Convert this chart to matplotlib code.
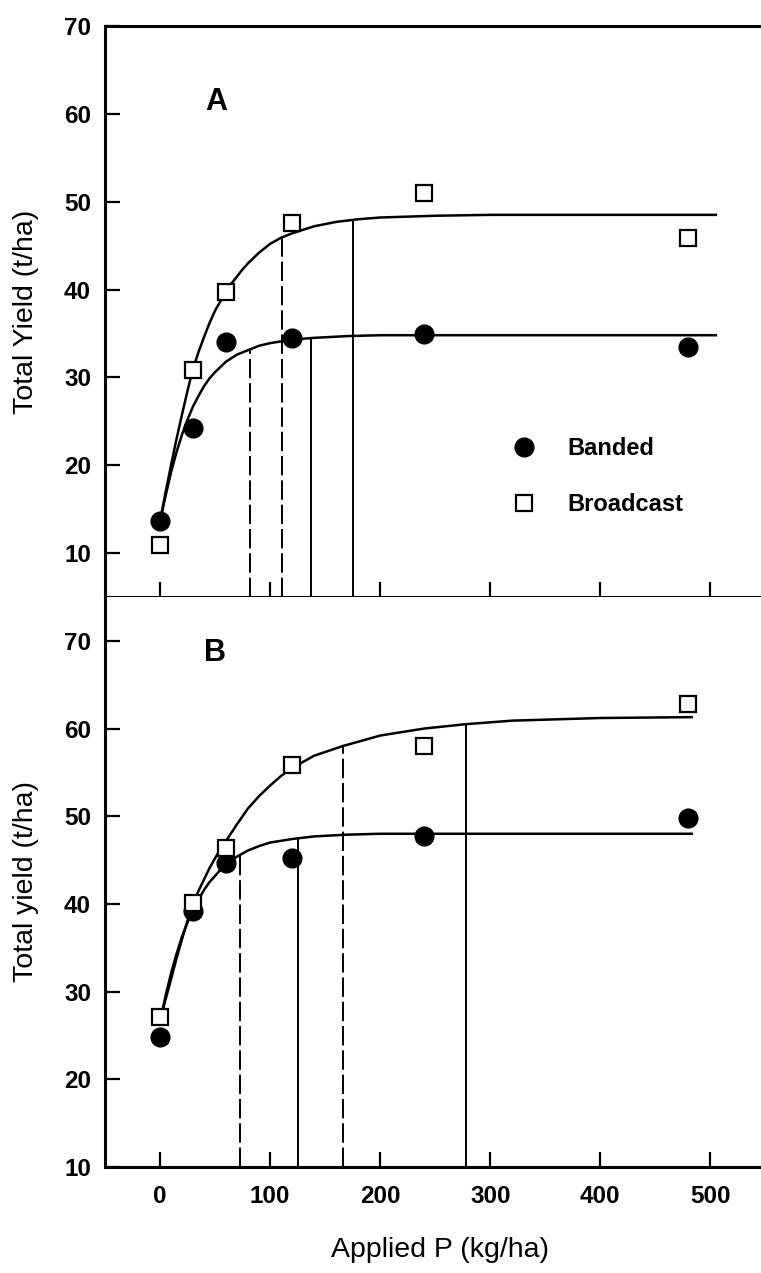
import numpy as np
import matplotlib.pyplot as plt

plt.rcParams['font.family'] = ['Liberation Sans', 'DejaVu Sans']

# measured yields
p_rate = [0, 30, 60, 120, 240, 480]
a_banded = [13.6, 24.2, 34.0, 34.5, 34.9, 33.5]
a_broadcast = [10.9, 30.8, 39.7, 47.6, 51.0, 45.9]
b_banded = [24.8, 39.2, 44.7, 45.2, 47.8, 49.8]
b_broadcast = [27.1, 40.1, 46.4, 55.8, 58.0, 62.8]

# fitted response curves
a_fit_p_banded = [0, 5, 10, 15, 20, 25, 30, 35, 40, 45, 50, 55, 60, 70, 80, 90, 100, 120, 140, 170, 200, 300, 505]
a_fit_banded = [13.6, 16.5, 19.2, 21.5, 23.5, 25.2, 26.7, 27.9, 29.0, 29.9, 30.6, 31.2, 31.8, 32.6, 33.1, 33.6,
                33.9, 34.3, 34.5, 34.7, 34.8, 34.8, 34.8]
a_fit_p_broad = [0, 5, 10, 15, 20, 25, 30, 35, 40, 45, 50, 55, 60, 65, 70, 75, 80, 90, 100, 110, 120, 140, 160,
                 180, 200, 250, 300, 400, 505]
a_fit_broad = [13.6, 16.9, 20.0, 23.0, 25.8, 28.5, 31.0, 32.9, 34.6, 36.2, 37.6, 38.7, 39.7, 40.7, 41.5, 42.3,
               43.0, 44.2, 45.2, 45.9, 46.4, 47.2, 47.7, 48.0, 48.2, 48.4, 48.5, 48.5, 48.5]
b_fit_p_banded = [0, 5, 10, 15, 20, 25, 30, 35, 40, 45, 50, 55, 60, 70, 80, 90, 100, 120, 140, 170, 200, 300, 483]
b_fit_banded = [26.6, 29.5, 32.1, 34.3, 36.3, 37.9, 39.3, 40.5, 41.6, 42.5, 43.2, 43.9, 44.5, 45.4, 46.1, 46.6,
                47.0, 47.4, 47.7, 47.9, 48.0, 48.0, 48.0]
b_fit_p_broad = [0, 5, 10, 15, 20, 25, 30, 35, 40, 45, 50, 55, 60, 70, 80, 90, 100, 110, 120, 140, 166, 200, 240,
                 278, 320, 400, 483]
b_fit_broad = [26.6, 29.1, 31.4, 33.8, 36.0, 38.1, 40.0, 41.5, 42.8, 44.1, 45.2, 46.3, 47.2, 49.1, 50.9, 52.3,
               53.5, 54.6, 55.5, 56.9, 58.0, 59.2, 60.0, 60.5, 60.9, 61.2, 61.3]

# P rates marked by the drop lines (dashed / solid) and the yield they reach
a_dash_p = [82, 111]
a_dash_y = [33.2, 46.0]
a_solid_p = [137, 175]
a_solid_y = [34.5, 48.0]
b_dash_p = [73, 166]
b_dash_y = [45.6, 58.0]
b_solid_p = [125, 278]
b_solid_y = [47.5, 60.5]

xticks = [0, 100, 200, 300, 400, 500]
yticks = [10, 20, 30, 40, 50, 60, 70]

W, H = 761, 1273
fig = plt.figure(figsize=(W / 100, H / 100), dpi=100)
left = 105 / W
axA = fig.add_axes([left, 1 - 597 / H, 1 - left, (597 - 26) / H])
axB = fig.add_axes([left, 1 - 1167 / H, 1 - left, (1167 - 597) / H])

tick_fs = 17.5
lab_fs = 20.5


def panel(ax, fit_pb, fit_b, fit_pq, fit_q, obs_b, obs_q, dp, dy, sp, sy, ymin, ymax):
    ax.plot(fit_pb, fit_b, color='black', lw=1.8, zorder=2)
    ax.plot(fit_pq, fit_q, color='black', lw=1.8, zorder=2)
    ax.vlines(dp, ymin, dy, colors='black', lw=1.4, linestyles=(0, (10, 2.5)), zorder=1)
    ax.vlines(sp, ymin, sy, colors='black', lw=1.4, zorder=1)
    hb, = ax.plot(p_rate, obs_b, 'o', color='black', ms=13.5, ls='none', zorder=4, label='Banded')
    hq, = ax.plot(p_rate, obs_q, 's', mfc='white', mec='black', mew=1.6, ms=11, ls='none',
                  zorder=4, label='Broadcast')
    ax.set_xlim(-50, 546)
    ax.set_ylim(ymin, ymax)
    ax.set_xticks(xticks)
    ax.set_yticks(yticks)
    ax.tick_params(direction='in', length=11, width=1.6, labelsize=tick_fs, pad=10)
    ax.tick_params(axis='x', pad=13)
    for lbl in ax.get_xticklabels() + ax.get_yticklabels():
        lbl.set_fontweight('bold')
    ax.spines['right'].set_visible(False)
    for s in ['left', 'top', 'bottom']:
        ax.spines[s].set_linewidth(2.2)
    return hb, hq


hb, hq = panel(axA, a_fit_p_banded, a_fit_banded, a_fit_p_broad, a_fit_broad,
               a_banded, a_broadcast, a_dash_p, a_dash_y, a_solid_p, a_solid_y, 5, 70)
panel(axB, b_fit_p_banded, b_fit_banded, b_fit_p_broad, b_fit_broad,
      b_banded, b_broadcast, b_dash_p, b_dash_y, b_solid_p, b_solid_y, 10, 75)

axA.tick_params(axis='x', labelbottom=False)
axB.spines['top'].set_visible(False)

axA.text(51, 61.3, 'A', fontsize=22, fontweight='bold', ha='center', va='center')
axB.text(50, 68.6, 'B', fontsize=22, fontweight='bold', ha='center', va='center')

axA.legend(handles=[hb, hq], loc='upper left', bbox_to_anchor=(0.62, 0.28), frameon=False,
           borderpad=0, borderaxespad=0, handlelength=1.0, handletextpad=1.35,
           labelspacing=1.4, prop={'size': 17, 'weight': 'bold'})

axA.set_ylabel('Total Yield (t/ha)', fontsize=lab_fs)
axB.set_ylabel('Total yield (t/ha)', fontsize=lab_fs)
axB.set_xlabel('Applied P (kg/ha)', fontsize=lab_fs)
axA.yaxis.set_label_coords(-0.1, 0.5)
axB.yaxis.set_label_coords(-0.1, 0.5)
axB.xaxis.set_label_coords(0.51, -0.123)

fig.savefig('out.png', dpi=100)
